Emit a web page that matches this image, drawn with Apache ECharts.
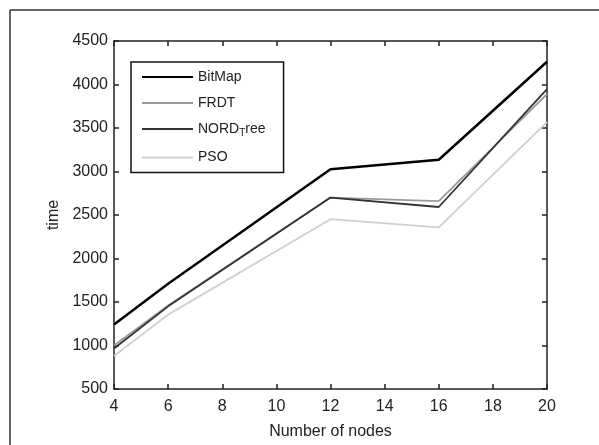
<!DOCTYPE html>
<html>
<head>
<meta charset="utf-8">
<script src="https://cdn.jsdelivr.net/npm/echarts@6/dist/echarts.min.js"></script>
<style>html,body{margin:0;padding:0;background:#fff}#c{width:599px;height:445px}</style>
</head>
<body>
<div id="c"></div>
<script>
var nodes = [4, 6, 12, 16, 20];
var bitmap = [1240, 1710, 3025, 3135, 4262];
var frdt = [1000, 1460, 2700, 2660, 3890];
var nordTree = [965, 1450, 2700, 2592, 3948];
var pso = [880, 1355, 2452, 2357, 3568];
var seriesNames = ['BitMap', 'FRDT', 'NORD_Tree', 'PSO'];
var xTicks = [4, 6, 8, 10, 12, 14, 16, 18, 20];
var yTicks = [500, 1000, 1500, 2000, 2500, 3000, 3500, 4000, 4500];

function pairs(v) { return nodes.map(function (x, i) { return [x, v[i]]; }); }

var font = 'Liberation Sans, Arial, sans-serif';
var chart = echarts.init(document.getElementById('c'), null, {renderer: 'canvas'});
var axisLine = {show: true, lineStyle: {color: '#222', width: 1.5}};
var tick = {show: true, inside: true, length: 5, lineStyle: {color: '#222', width: 1.5}};
var labelStyle = {color: '#222', fontSize: 16, fontFamily: font};

chart.setOption({
  animation: false,
  backgroundColor: '#fff',
  grid: {left: 114, right: 52, top: 41, bottom: 53, containLabel: false},
  graphic: [
    {type: 'line', shape: {x1: 10, y1: 10, x2: 599, y2: 10}, style: {stroke: '#333', lineWidth: 1.5}},
    {type: 'line', shape: {x1: 10, y1: 10, x2: 10, y2: 445}, style: {stroke: '#333', lineWidth: 1.5}}
  ],
  legend: {
    orient: 'vertical',
    left: 131, top: 62,
    data: seriesNames,
    itemWidth: 51, itemHeight: 14, itemGap: 12,
    padding: [8, 18, 8, 10],
    borderColor: '#111', borderWidth: 1.5,
    backgroundColor: '#fff',
    itemStyle: {opacity: 0},
    textStyle: {color: '#222', fontSize: 14, fontFamily: font,
      rich: {
        a: {fontSize: 14, fontFamily: font, color: '#222'},
        s: {fontSize: 10, fontFamily: font, color: '#222', padding: [9, 0, 0, 0]}
      }},
    formatter: function (n) {
      if (n === 'NORD_Tree') return '{a|NORD}{s|T}{a|ree}';
      return n;
    }
  },
  xAxis: [{
    type: 'value', min: 4, max: 20, interval: 2,
    name: 'Number of nodes', nameLocation: 'middle', nameGap: 35,
    nameTextStyle: labelStyle,
    axisLine: axisLine, axisTick: tick, splitLine: {show: false},
    axisLabel: Object.assign({margin: 10, formatter: function (v) { return String(v); }}, labelStyle)
  }, {
    type: 'value', position: 'top', min: 4, max: 20, interval: 2,
    axisLine: axisLine, axisTick: tick, axisLabel: {show: false}, splitLine: {show: false}
  }],
  yAxis: [{
    type: 'value', min: 500, max: 4500, interval: 500,
    name: 'time', nameLocation: 'middle', nameGap: 52, nameRotate: 90,
    nameTextStyle: labelStyle,
    axisLine: axisLine, axisTick: tick, splitLine: {show: false},
    axisLabel: Object.assign({margin: 6, formatter: function (v) { return String(v); }}, labelStyle)
  }, {
    type: 'value', position: 'right', min: 500, max: 4500, interval: 500,
    axisLine: axisLine, axisTick: tick, axisLabel: {show: false}, splitLine: {show: false}
  }],
  series: [
    {name: 'BitMap', type: 'line', data: pairs(bitmap), symbol: 'none',
     lineStyle: {color: '#000', width: 2.5}, itemStyle: {color: '#000'}},
    {name: 'FRDT', type: 'line', data: pairs(frdt), symbol: 'none',
     lineStyle: {color: '#9a9a9a', width: 1.8}, itemStyle: {color: '#9a9a9a'}},
    {name: 'NORD_Tree', type: 'line', data: pairs(nordTree), symbol: 'none',
     lineStyle: {color: '#333', width: 1.8}, itemStyle: {color: '#333'}},
    {name: 'PSO', type: 'line', data: pairs(pso), symbol: 'none',
     lineStyle: {color: '#cfcfcf', width: 1.8}, itemStyle: {color: '#cfcfcf'}}
  ]
});
</script>
</body>
</html>
